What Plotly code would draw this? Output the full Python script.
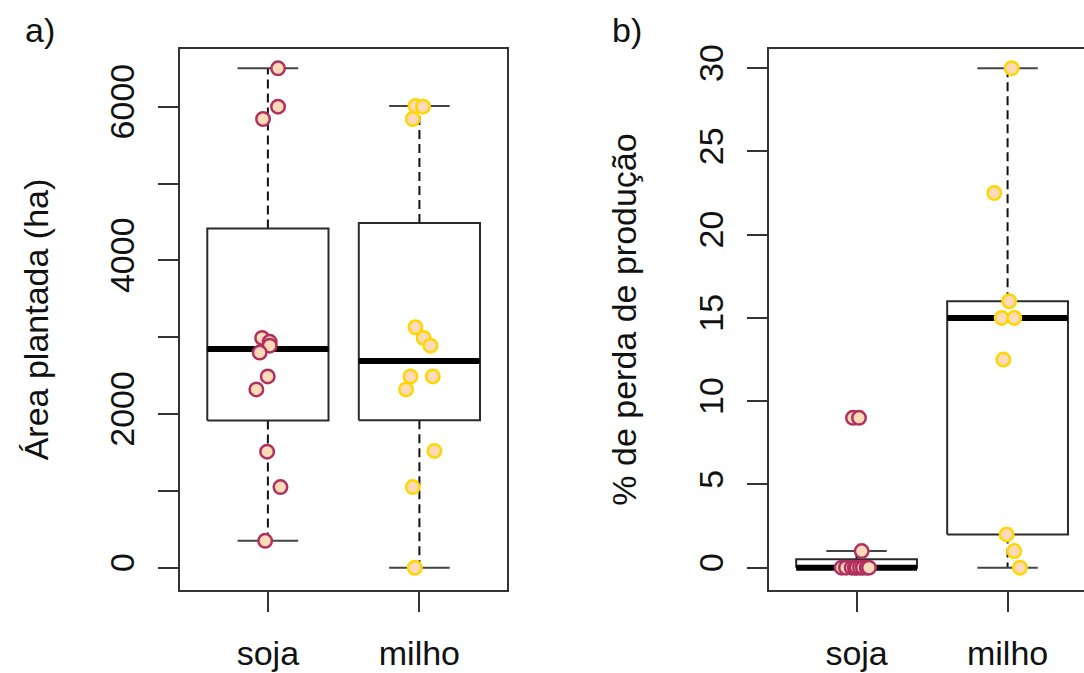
import math
import plotly.graph_objects as go

# ---------------- data ----------------
groups = ["soja", "milho"]

# a) planted area (ha)
area_soja = [6500, 6000, 5840, 2990, 2940, 2890, 2800, 2490, 2320, 1510, 1050, 350]
area_soja_jitter = [0.067, 0.067, -0.032, -0.038, 0.012, 0.012, -0.054, -0.001, -0.076, -0.005, 0.083, -0.018]
area_milho = [6010, 6000, 5840, 3130, 2990, 2890, 2490, 2490, 2320, 1520, 1050, 0]
area_milho_jitter = [-0.026, 0.024, -0.044, -0.026, 0.028, 0.073, -0.059, 0.088, -0.088, 0.099, -0.044, -0.031]

# b) production loss (%)
loss_soja = [9, 9, 1, 0, 0, 0, 0, 0, 0, 0, 0, 0]
loss_soja_jitter = [-0.024, 0.016, 0.034, -0.099, -0.070, -0.032, -0.011, 0.001, 0.023, 0.042, 0.067, 0.082]
loss_milho = [30, 22.5, 16, 15, 15, 12.5, 2, 1, 0]
loss_milho_jitter = [0.027, -0.088, 0.011, -0.039, 0.044, -0.028, -0.006, 0.044, 0.082]

area_ticks = [0, 1000, 2000, 3000, 4000, 5000, 6000]
area_ticktext = ["0", "", "2000", "", "4000", "", "6000"]
loss_ticks = [0, 5, 10, 15, 20, 25, 30]
loss_ticktext = ["0", "5", "10", "15", "20", "25", "30"]

point_fill = "#FFDAB9"
border_cols = ["#B03060", "#FFD700"]

# ---------------- helpers ----------------
def fivenum(v):
    x = sorted(v)
    n = len(x)
    n4 = math.floor((n + 3) / 2) / 2
    d = [1, n4, (n + 1) / 2, n + 1 - n4, n]
    return [0.5 * (x[math.floor(di) - 1] + x[math.ceil(di) - 1]) for di in d]


def boxstats(v):
    fn = fivenum(v)
    iqr = fn[3] - fn[1]
    lo = min(a for a in v if a >= fn[1] - 1.5 * iqr)
    hi = max(a for a in v if a <= fn[3] + 1.5 * iqr)
    return lo, fn[1], fn[2], fn[3], hi


FONT = "Liberation Sans, Arial, sans-serif"
TXT = "#111111"
AX = "#333333"
FS = 34

fig = go.Figure()


def add_panel(datasets, jitters, xa, ya):
    for i, (vals, jit) in enumerate(zip(datasets, jitters)):
        c = i + 1
        lo, q1, med, q3, hi = boxstats(vals)
        hw = 0.4
        sw = 0.2
        # whiskers (dashed)
        for a, b in ((q3, hi), (q1, lo)):
            fig.add_trace(go.Scatter(x=[c, c], y=[a, b], mode="lines", xaxis=xa, yaxis=ya,
                                     line=dict(color="#111111", width=2, dash="9px,5px"),
                                     hoverinfo="skip", showlegend=False))
        # staples
        for s in (lo, hi):
            fig.add_trace(go.Scatter(x=[c - sw, c + sw], y=[s, s], mode="lines", xaxis=xa, yaxis=ya,
                                     line=dict(color="#444444", width=2),
                                     hoverinfo="skip", showlegend=False))
        # box
        fig.add_trace(go.Scatter(x=[c - hw, c + hw, c + hw, c - hw, c - hw],
                                 y=[q1, q1, q3, q3, q1], mode="lines", xaxis=xa, yaxis=ya,
                                 line=dict(color="#2b2b2b", width=2),
                                 hoverinfo="skip", showlegend=False))
        # median
        fig.add_trace(go.Scatter(x=[c - hw, c + hw], y=[med, med], mode="lines", xaxis=xa, yaxis=ya,
                                 line=dict(color="#000000", width=6),
                                 hoverinfo="skip", showlegend=False))
    for i, (vals, jit) in enumerate(zip(datasets, jitters)):
        c = i + 1
        fig.add_trace(go.Scatter(x=[c + j for j in jit], y=vals, mode="markers", xaxis=xa, yaxis=ya,
                                 marker=dict(size=13.5, color=point_fill,
                                             line=dict(color=border_cols[i], width=2.5)),
                                 name=groups[i], showlegend=False))


add_panel([area_soja, area_milho], [area_soja_jitter, area_milho_jitter], "x", "y")
add_panel([loss_soja, loss_milho], [loss_soja_jitter, loss_milho_jitter], "x2", "y2")

W, H = 1084, 673
ydom = [83 / H, 624 / H]

common_x = dict(tickvals=[1, 2], ticktext=groups, ticks="outside", ticklen=20, tickwidth=2,
                tickcolor=AX, showline=True, linecolor=AX, linewidth=2, showgrid=False,
                zeroline=False, ticklabelstandoff=12, automargin=False,
                tickfont=dict(family=FONT, size=FS, color=TXT))
common_y = dict(ticks="outside", ticklen=20, tickwidth=2, tickcolor=AX, showline=True,
                linecolor=AX, linewidth=2, showgrid=False, zeroline=False, tickangle=-90,
                ticklabelstandoff=10, automargin=False, domain=ydom,
                tickfont=dict(family=FONT, size=FS, color=TXT))

fig.update_layout(
    width=W, height=H,
    margin=dict(l=0, r=0, t=0, b=0),
    paper_bgcolor="white", plot_bgcolor="white",
    showlegend=False,
    xaxis=dict(domain=[180 / W, 507.3 / W], range=[0.42, 2.58], anchor="y", mirror=True, **common_x),
    yaxis=dict(range=[-290, 6751], tickvals=area_ticks, ticktext=area_ticktext, anchor="x",
               mirror=True,
               title=dict(text="Área plantada (ha)", standoff=45,
                          font=dict(family=FONT, size=FS, color=TXT)),
               **common_y),
    xaxis2=dict(domain=[769 / W, 1.0], range=[0.42, 0.42 + (W - 769) / 151.0], anchor="y2",
                mirror=True, **common_x),
    yaxis2=dict(range=[-1.34, 31.15], tickvals=loss_ticks, ticktext=loss_ticktext, anchor="x2",
                mirror=False,
                title=dict(text="% de perda de produção", standoff=46,
                           font=dict(family=FONT, size=FS, color=TXT)),
                **common_y),
    annotations=[
        dict(text="a)", x=40 / W, y=1 - 30 / H, xref="paper", yref="paper", showarrow=False,
             font=dict(family=FONT, size=FS, color=TXT), xanchor="center", yanchor="middle"),
        dict(text="b)", x=627 / W, y=1 - 30 / H, xref="paper", yref="paper", showarrow=False,
             font=dict(family=FONT, size=FS, color=TXT), xanchor="center", yanchor="middle"),
    ],
)

fig.write_html("out.html")
